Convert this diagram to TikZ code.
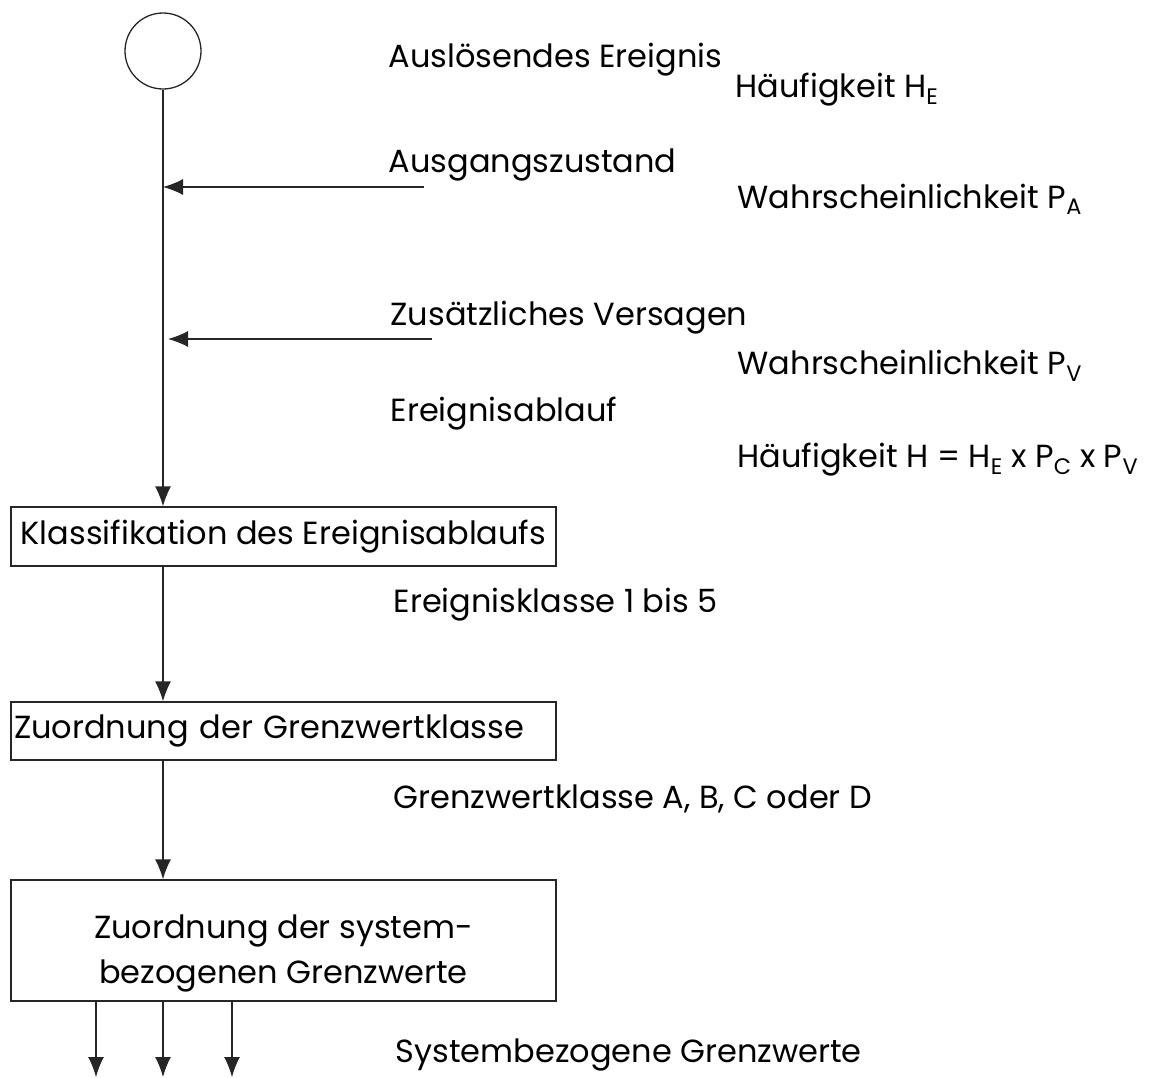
\documentclass[tikz,border=0pt]{standalone}
\usepackage{fontspec}
\setmainfont{Poppins}
\usetikzlibrary{arrows.meta,positioning}

\begin{document}
\begin{tikzpicture}[x=1pt, y=-1pt, >={Latex[length=20pt,width=16pt]},
  font=\fontsize{32}{43}\selectfont, line width=1.3pt, draw=black!85,
  stepbox/.style={draw, line width=1.3pt, minimum width=545pt, align=center, inner sep=3pt},
  lbl/.style={anchor=base west, inner sep=0pt}]
\useasboundingbox (0,0) rectangle (1157,1077);
% Ereignis und Zweige
\node[circle, draw, minimum size=76pt, inner sep=0pt] (start) at (163,51) {};
\coordinate (hit1) at (163,187);
\coordinate (src1) at (424,187);
\coordinate (hit2) at (168,339);
\coordinate (src2) at (432,339);
% Kaestchen
\node[stepbox, minimum height=59pt] (klass) at (283.5,536.5) {Klassifikation des Ereignisablaufs};
\node[stepbox, minimum height=58pt, text width=539pt, align=left] (gwk) at (283.5,731) {Zuordnung der Grenzwertklasse};
\node[stepbox, minimum height=121pt] (gw) at (283.5,940.5) {\rule{0pt}{50pt}Zuordnung der system-\\[2pt]bezogenen Grenzwerte};
\coordinate (out1) at (96,1077);
\coordinate (out2) at (163,1077);
\coordinate (out3) at (232,1077);
% Beschriftungen
\node[lbl] (ausl) at (388,67) {Auslösendes Ereignis};
\node[lbl] (he) at (735,97) {Häufigkeit H\textsubscript{E}};
\node[lbl] (ausg) at (388,172) {Ausgangszustand};
\node[lbl] (pa) at (737,208) {Wahrscheinlichkeit P\textsubscript{A}};
\node[lbl] (zus) at (390,325) {Zusätzliches Versagen};
\node[lbl] (pv) at (737,374) {Wahrscheinlichkeit P\textsubscript{V}};
\node[lbl] (abl) at (390,421) {Ereignisablauf};
\node[lbl] (hges) at (737,467) {Häufigkeit H = H\textsubscript{E} x P\textsubscript{C} x P\textsubscript{V}};
\node[lbl] (ekl) at (393,612) {Ereignisklasse 1 bis 5};
\node[lbl] (gkl) at (393,808) {Grenzwertklasse A, B, C oder D};
\node[lbl] (sgw) at (395,1062) {Systembezogene Grenzwerte};
% Verbindungen
\draw[->] (start.south) -- (start.south |- klass.north);
\draw[->] (src1) -- (hit1);
\draw[->] (src2) -- (hit2);
\draw[->] (klass.south -| start) -- (gwk.north -| start);
\draw[->] (gwk.south -| start) -- (gw.north -| start);
\draw[->] (gw.south -| out1) -- (out1);
\draw[->] (gw.south -| out2) -- (out2);
\draw[->] (gw.south -| out3) -- (out3);
\end{tikzpicture}
\end{document}
